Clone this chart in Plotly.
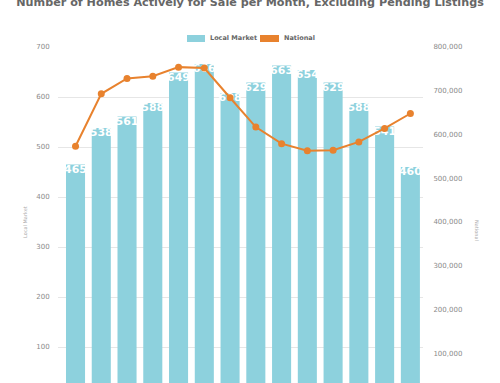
import plotly.graph_objects as go

months = ["Jan 2023", "Feb 2023", "Mar 2023", "Apr 2023", "May 2023", "Jun 2023", "Jul 2023",
          "Aug 2023", "Sep 2023", "Oct 2023", "Nov 2023", "Dec 2023", "Jan 2024", "Feb 2024"]
local_market = [465, 538, 561, 588, 649, 666, 608, 629, 663, 654, 629, 588, 541, 460]
national = [573000, 693000, 728000, 733000, 754000, 752000, 684000, 617000, 579000, 563000,
            564000, 583000, 614000, 648000]
left_ticks = [100, 200, 300, 400, 500, 600, 700]
right_ticks = [100000, 200000, 300000, 400000, 500000, 600000, 700000, 800000]

BLUE = "#8dd1dd"
ORANGE = "#e8822e"
W, H = 500, 383
L, R, T, B = 58, 77, 47, 0
PW, PH = W - L - R, H - T - B
Y_MIN = 28  # visible bottom of the (cropped) plot area

fig = go.Figure()
fig.add_trace(go.Bar(x=months, y=local_market, name="Local Market", marker_color=BLUE,
                     marker_line_width=0, yaxis="y", hoverinfo="skip", showlegend=False))
fig.add_trace(go.Scatter(x=months, y=local_market, mode="text", text=[str(v) for v in local_market],
                         textposition="bottom center",
                         textfont=dict(family="DejaVu Sans", size=11, color="white", weight="bold"),
                         showlegend=False, yaxis="y", hoverinfo="skip"))
fig.add_trace(go.Scatter(x=months, y=national, name="National", mode="lines+markers",
                         line=dict(color=ORANGE, width=2), marker=dict(color=ORANGE, size=7),
                         yaxis="y2", showlegend=False))

tickfont = dict(family="DejaVu Sans", size=7, color="#8a8a8a")
legfont = dict(family="DejaVu Sans", size=6.5, color="#666666", weight="bold")


def px_x(p):
    return (p - L) / PW


def px_y(p):
    return (H - B - p) / PH


shapes = [
    dict(type="rect", xref="paper", yref="paper", x0=px_x(187), x1=px_x(205),
         y0=px_y(42), y1=px_y(35), fillcolor=BLUE, line_width=0),
    dict(type="rect", xref="paper", yref="paper", x0=px_x(260), x1=px_x(279),
         y0=px_y(42), y1=px_y(35), fillcolor=ORANGE, line_width=0),
]
annotations = [
    dict(text="Local Market", xref="paper", yref="paper", x=px_x(208), y=px_y(38.5),
         xanchor="left", yanchor="middle", showarrow=False, font=legfont),
    dict(text="National", xref="paper", yref="paper", x=px_x(282), y=px_y(38.5),
         xanchor="left", yanchor="middle", showarrow=False, font=legfont),
    dict(text="Local Market", xref="paper", yref="paper", x=px_x(25), y=px_y(222),
         xanchor="center", yanchor="middle", textangle=-90, showarrow=False,
         font=dict(family="DejaVu Sans", size=5, color="#aaaaaa")),
    dict(text="National", xref="paper", yref="paper", x=px_x(477), y=px_y(230),
         xanchor="center", yanchor="middle", textangle=90, showarrow=False,
         font=dict(family="DejaVu Sans", size=5, color="#aaaaaa")),
]

fig.update_layout(
    width=W, height=H,
    margin=dict(l=L, r=R, t=T, b=B, autoexpand=False),
    paper_bgcolor="white", plot_bgcolor="white",
    barmode="overlay", bargap=0.26,
    showlegend=False,
    title=dict(text="Number of Homes Actively for Sale per Month, Excluding Pending Listings",
               x=0.5, xanchor="center", yref="container", y=1 - 2.5 / H, yanchor="middle",
               font=dict(family="DejaVu Sans", size=11.2, color="#666666", weight="bold")),
    xaxis=dict(range=[-0.68, 13.49], showgrid=False, showline=False, ticks="",
               showticklabels=False, fixedrange=True),
    yaxis=dict(range=[Y_MIN, 700], tickvals=left_ticks, showgrid=True, gridcolor="#e6e6e6",
               gridwidth=1, zeroline=False, tickfont=tickfont, ticks="outside", ticklen=6,
               tickcolor="rgba(0,0,0,0)"),
    yaxis2=dict(range=[Y_MIN / 700 * 800000, 800000], tickvals=right_ticks, overlaying="y",
                side="right", showgrid=False, zeroline=False, tickformat=",", tickfont=tickfont,
                ticks="outside", ticklen=8, tickcolor="rgba(0,0,0,0)"),
    shapes=shapes,
    annotations=annotations,
)
fig.write_html("out.html", config={"displayModeBar": False},
               post_script="document.body.style.margin='0';")
